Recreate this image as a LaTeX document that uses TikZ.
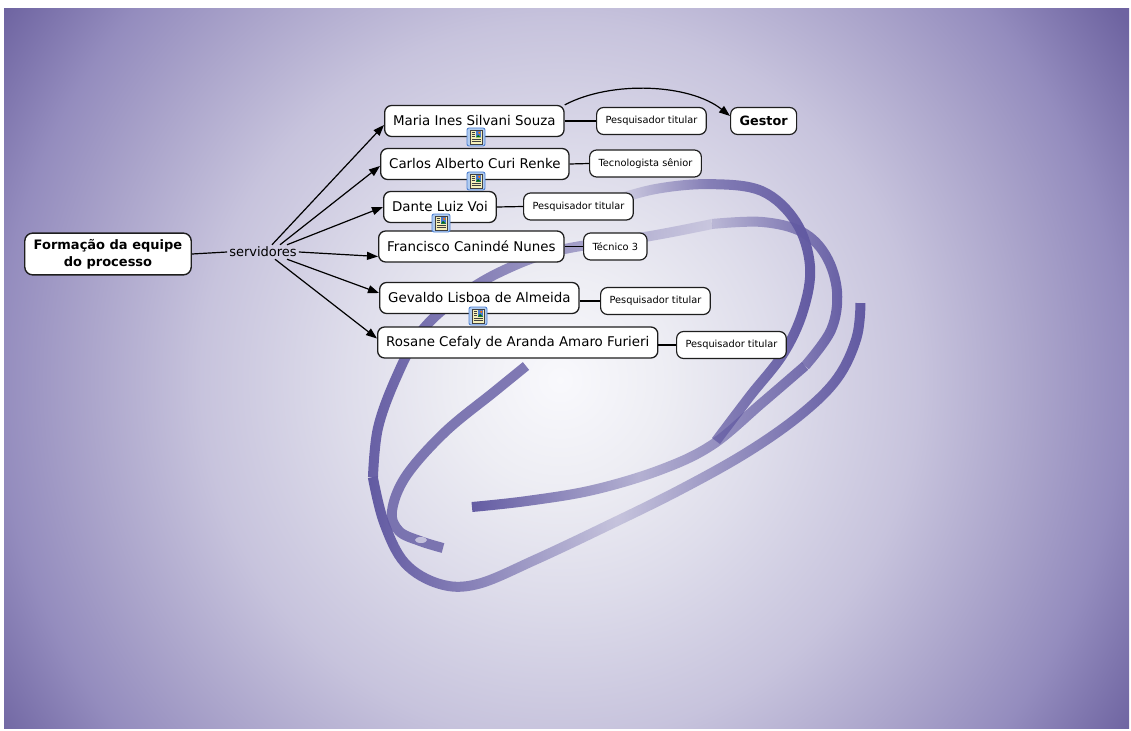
\documentclass[tikz,border=0pt]{standalone}
\usepackage{fontspec}
\setmainfont{DejaVu Sans}
\usetikzlibrary{arrows.meta,fadings}

\definecolor{ribbon}{RGB}{98,90,162}
\definecolor{boxline}{RGB}{30,30,30}
\definecolor{iconbg}{RGB}{176,204,240}
\definecolor{iconedge}{RGB}{80,130,210}
\definecolor{paper}{RGB}{245,240,185}
\definecolor{picblue}{RGB}{70,120,210}

\pgfdeclareradialshading{glow}{\pgfpoint{0bp}{0bp}}{%
  rgb(0bp)=(0.976,0.976,0.99);
  rgb(4bp)=(0.93,0.93,0.955);
  rgb(8bp)=(0.87,0.865,0.92);
  rgb(13.4bp)=(0.78,0.765,0.865);
  rgb(18bp)=(0.66,0.635,0.79);
  rgb(21bp)=(0.58,0.55,0.745);
  rgb(25bp)=(0.43,0.39,0.63);
  rgb(50bp)=(0.43,0.39,0.63)}

\tikzfading[name=ribbonin, left color=transparent!100, right color=transparent!0, middle color=transparent!30]
\tikzfading[name=ribbonup, left color=transparent!75, right color=transparent!5]
\tikzfading[name=ribbonout, left color=transparent!5, right color=transparent!85, middle color=transparent!40]
\tikzfading[name=ribbonmid, left color=transparent!0, right color=transparent!0, middle color=transparent!75]
\tikzfading[name=ribbonlow, left color=transparent!0, right color=transparent!15, middle color=transparent!60]

\tikzset{
  band/.style={draw=ribbon, line width=10pt, line cap=butt},
  person/.style={draw=boxline, fill=white, rounded corners=7pt, line width=1.3pt,
    font=\fontsize{13.4}{16}\selectfont, inner xsep=8.5pt, minimum height=31pt, anchor=west},
  role/.style={draw=boxline, fill=white, rounded corners=7pt, line width=1.2pt,
    font=\fontsize{9.8}{12}\selectfont, inner xsep=9pt, minimum height=27pt, anchor=west},
  plainline/.style={line width=1.2pt},
  toperson/.style={plainline, -{Triangle[length=11pt,width=8pt]}},
  docicon/.pic={
    \draw[fill=iconbg, draw=iconedge, line width=0.9pt, rounded corners=2pt] (-9,-9) rectangle (9,9);
    \draw[fill=paper, draw=black!75, line width=0.6pt] (-6,-7) rectangle (6,7);
    \fill[picblue] (0,-6) rectangle (5,0.5);
    \fill[orange!90!red] (3.3,-4.2) circle (1.2pt);
    \fill[green!45!black] (0,0.5) -- (2,-2) -- (3.5,-0.5) -- (5,0.5) -- cycle;
    \foreach \yy in {-4.5,-2.5,-0.5}
      \draw[black!75, line width=0.9pt] (-4.5,\yy) -- (-1.5,\yy);
    \foreach \yy in {2.5,4.5}
      \draw[black!75, line width=0.9pt] (-4.5,\yy) -- (4.5,\yy);
  }
}

\begin{document}
\begin{tikzpicture}[x=1pt, y=-1pt]

    \useasboundingbox (0,0) rectangle (1131,730);
    \begin{scope}
      \clip (4,9) rectangle (1129,728);
      \shade[shading=glow] (-110,-290) rectangle (1230,1050);
    \end{scope}

    % swirl of ribbons behind the map
    \draw[band, path fading=ribbonin] plot[smooth, tension=0.6] coordinates
      {(605,203) (655,189) (710,184) (762,191) (796,222) (810,266) (803,311) (783,354) (750,396) (716,441)};
    \draw[band, path fading=ribbonmid] plot[smooth, tension=0.6] coordinates
      {(861,303) (857,338) (838,378) (802,414) (748,452) (680,490) (605,527) (535,560) (478,584) (440,584) (405,563) (384,522) (373,477)};
    \draw[band, path fading=ribbonout] plot[smooth, tension=0.6] coordinates
      {(373,477) (378,428) (396,378) (420,333) (455,300) (500,272) (560,250) (650,236) (712,224)};
    \draw[band, path fading=ribbonup] plot[smooth, tension=0.6] coordinates
      {(712,224) (762,222) (802,232) (826,256) (837,292) (831,330) (805,366)};
    \draw[band, path fading=ribbonlow] plot[smooth, tension=0.6] coordinates
      {(805,366) (762,403) (712,445) (660,470) (593,490) (527,501) (472,507)};
    \draw[band, draw opacity=0.8] plot[smooth, tension=0.6] coordinates
      {(526,366) (494,392) (445,432) (406,476) (392,511) (399,531) (420,541) (443,548)};
    \fill[white, opacity=0.55] (421,540) ellipse (6 and 3);

    \node[draw=boxline, fill=white, rounded corners=8pt, line width=1.4pt, align=center,
      font=\bfseries\fontsize{13}{17}\selectfont, inner xsep=9pt, inner ysep=6pt]
      (root) at (108,254) {Formação da equipe\\do processo};
    \node[font=\fontsize{13}{16}\selectfont, inner sep=2pt] (serv) at (263,252) {servidores};

    \node[person] (maria) at (384,121) {Maria Ines Silvani Souza};
    \node[person] (carlos) at (380,164) {Carlos Alberto Curi Renke};
    \node[person] (dante) at (383,207) {Dante Luiz Voi};
    \node[person] (fran) at (378,246.5) {Francisco Canindé Nunes};
    \node[person] (gev) at (379,298) {Gevaldo Lisboa de Almeida};
    \node[person] (ros) at (377,342.5) {Rosane Cefaly de Aranda Amaro Furieri};

    \node[role] (r1) at (596,121) {Pesquisador titular};
    \node[role, font=\bfseries\fontsize{12.8}{15}\selectfont] (gestor) at (730,121) {Gestor};
    \node[role] (r2) at (589,163.5) {Tecnologista sênior};
    \node[role] (r3) at (523,206.5) {Pesquisador titular};
    \node[role] (r4) at (583,246.5) {Técnico 3};
    \node[role] (r5) at (600,301) {Pesquisador titular};
    \node[role] (r6) at (676,345) {Pesquisador titular};

    \draw[plainline] (root.east) -- (serv.west);
    \draw[toperson] ([xshift=9pt]serv.north) -- ([yshift=-4pt]maria.west);
    \draw[toperson] ([xshift=17pt]serv.north) -- ([yshift=-2pt]carlos.west);
    \draw[toperson] ([xshift=24pt]serv.north) -- (dante.west);
    \draw[toperson] (serv.east) -- ([yshift=-10pt]fran.west);
    \draw[toperson] ([xshift=24pt]serv.south) -- ([yshift=5pt]gev.west);
    \draw[toperson] ([xshift=12pt]serv.south) -- ([yshift=4pt]ros.west);

    \draw[plainline] (maria.east) -- (r1.west);
    \draw[plainline] (carlos.east) -- (r2.west);
    \draw[plainline] (dante.east) -- (r3.west);
    \draw[plainline] (fran.east) -- (r4.west);
    \draw[plainline] (r5.west -| gev.east) -- (r5.west);
    \draw[plainline] (r6.west -| ros.east) -- (r6.west);
    \draw[toperson] (maria.north east) .. controls (612,80) and (690,84) .. ([yshift=5pt]gestor.west);

    \pic (icmaria) at (476,137) {docicon};
    \pic (iccarlos) at (476,181) {docicon};
    \pic (icdante) at (441,223) {docicon};
    \pic (icgev) at (478,316) {docicon};
\end{tikzpicture}
\end{document}
